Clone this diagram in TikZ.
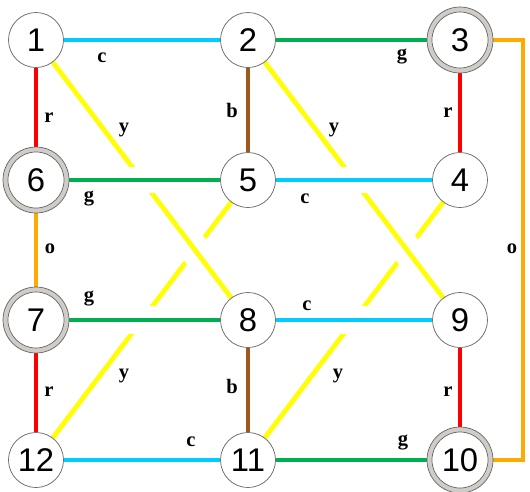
\documentclass[tikz,border=0pt]{standalone}
\usepackage{fontspec}
\setmainfont{Liberation Serif}
\newfontfamily\numfont{Liberation Sans}
\usetikzlibrary{backgrounds}
\definecolor{lcyan}{RGB}{0,204,255}
\definecolor{lgreen}{RGB}{0,176,80}
\definecolor{lred}{RGB}{255,0,0}
\definecolor{lbrown}{RGB}{158,90,30}
\definecolor{lorange}{RGB}{255,170,0}
\definecolor{lyellow}{RGB}{255,255,0}
\definecolor{ringgray}{RGB}{208,204,200}
\definecolor{nodeedge}{RGB}{100,100,100}

\begin{document}
\begin{tikzpicture}[x=0.03cm,y=-0.03cm,
  stn/.style={circle,draw=nodeedge,line width=0.6pt,fill=white,minimum size=1.65cm,inner sep=0pt,
    font=\numfont\fontsize{28}{30}\selectfont},
  hub/.style={stn,fill=ringgray,minimum size=1.98cm,
    path picture={\draw[nodeedge,line width=0.6pt,fill=white] (path picture bounding box.center) circle (0.84cm);}},
  lbl/.style={anchor=base,font=\bfseries\fontsize{17.5}{19}\selectfont},
  track/.style={line width=0.14cm},
  whitegap/.style={preaction={draw=white,line width=#1}}]
\useasboundingbox (0,0) rectangle (530,491);

% stations
\node[stn] (n1) at (36,40) {1};
\node[stn] (n2) at (248,40) {2};
\node[hub] (n3) at (460,40) {3};
\node[hub] (n6) at (36,180) {6};
\node[stn] (n5) at (248,180) {5};
\node[stn] (n4) at (460,180) {4};
\node[hub] (n7) at (36,320) {7};
\node[stn] (n8) at (248,320) {8};
\node[stn] (n9) at (460,320) {9};
\node[stn] (n12) at (36,460) {12};
\node[stn] (n11) at (248,460) {11};
\node[hub] (n10) at (460,460) {10};
\coordinate (bend) at (523,40);

% lines
\begin{scope}[on background layer]
\draw[track,lyellow] (n5) -- (n12);
\draw[track,lyellow] (n4) -- (n11);
\draw[track,lyellow,whitegap=0.9cm] (n1) -- (n8);
\draw[track,lyellow,whitegap=0.9cm] (n2) -- (n9);
\draw[track,lcyan,whitegap=0.78cm] (n1) -- (n2);
\draw[track,lgreen,whitegap=0.78cm] (n2) -- (n3);
\draw[track,lgreen,whitegap=0.78cm] (n6) -- (n5);
\draw[track,lcyan,whitegap=0.78cm] (n5) -- (n4);
\draw[track,lgreen,whitegap=0.84cm] (n7) -- (n8);
\draw[track,lcyan,whitegap=0.84cm] (n8) -- (n9);
\draw[track,lcyan,whitegap=0.78cm] (n12) -- (n11);
\draw[track,lgreen,whitegap=0.78cm] (n11) -- (n10);
\draw[track,lred] (n1) -- (n6);
\draw[track,lorange] (n6) -- (n7);
\draw[track,lred] (n7) -- (n12);
\draw[track,lbrown] (n2) -- (n5);
\draw[track,lbrown] (n8) -- (n11);
\draw[track,lred] (n3) -- (n4);
\draw[track,lred] (n9) -- (n10);
\draw[track,lorange] (n3) -- (bend) |- (n10);
\end{scope}

% line letters
\foreach \t/\x/\y [count=\i] in {c/102/62, r/49/122, y/124/132, b/232/117, g/89/201,
    g/402/59, y/334/132, r/448/117, c/305/203, o/50/253, g/89/301, y/124/378,
    r/49/396, b/232/393, c/191/446, c/307/310, y/338/378, r/448/396, g/403/445, o/512/253}
  \node[lbl] (lab\i) at (\x,\y) {\t};
\end{tikzpicture}
\end{document}
